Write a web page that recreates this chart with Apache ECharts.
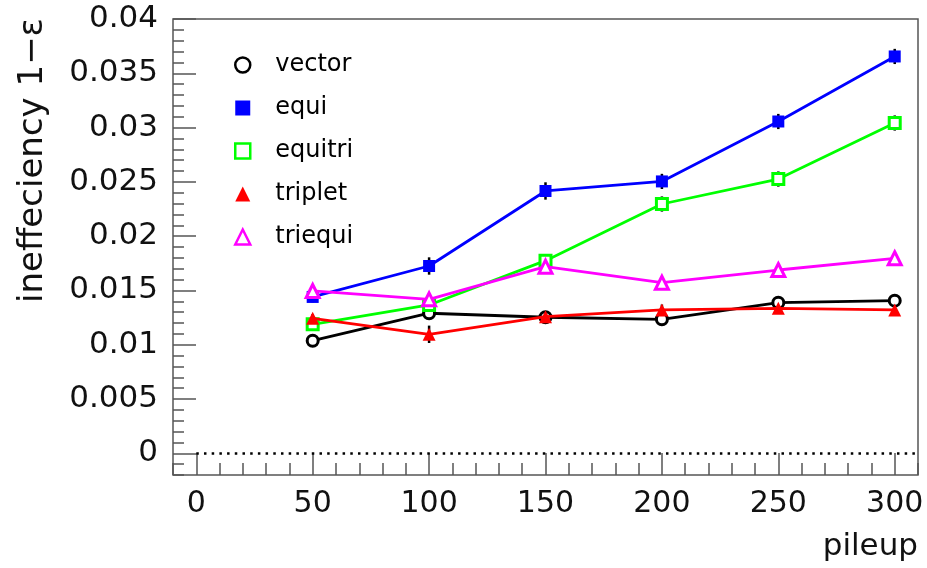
<!DOCTYPE html>
<html>
<head>
<meta charset="utf-8">
<script src="https://cdn.jsdelivr.net/npm/echarts@6/dist/echarts.min.js"></script>
<style>
html, body { margin: 0; padding: 0; background: #fff; }
#main { width: 927px; height: 568px; }
</style>
</head>
<body>
<div id="main"></div>
<script>
// values
var pileup = [50, 100, 150, 200, 250, 300];
var vector = [0.01037, 0.0129, 0.01253, 0.01234, 0.01387, 0.01406];
var vectorErr = [0.0003, 0.0004, 0.0004, 0.0004, 0.0004, 0.0004];
var equi = [0.0144, 0.01725, 0.02416, 0.02504, 0.03056, 0.03655];
var equiErr = [0.0005, 0.0008, 0.0008, 0.0007, 0.0007, 0.0007];
var equitri = [0.01188, 0.01366, 0.01774, 0.02296, 0.02526, 0.03042];
var equitriErr = [0.0005, 0.0006, 0.0006, 0.0007, 0.0007, 0.0007];
var triplet = [0.01243, 0.01096, 0.01258, 0.0132, 0.01335, 0.0132];
var tripletErr = [0.0004, 0.0008, 0.0004, 0.0005, 0.0004, 0.0004];
var triequi = [0.01495, 0.01418, 0.01719, 0.01571, 0.01688, 0.01796];
var triequiErr = [0.0004, 0.0005, 0.0005, 0.0004, 0.0004, 0.0004];

var xTicks = [0, 50, 100, 150, 200, 250, 300];
var yTicks = [0, 0.005, 0.01, 0.015, 0.02, 0.025, 0.03, 0.035, 0.04];

var FONT = 'DejaVu Sans';
var AXIS_GREY = '#555';

function points(vals) {
	return pileup.map(function(x, i) { return [x, vals[i]]; });
}

function errBars(vals, errs) {
	return {
		type : 'custom',
		silent : true,
		z : 1,
		renderItem : function(params, api) {
			var lo = api.coord([api.value(0), api.value(1)]);
			var hi = api.coord([api.value(0), api.value(2)]);
			return {
				type : 'line',
				shape : { x1 : lo[0], y1 : lo[1], x2 : hi[0], y2 : hi[1] },
				style : { stroke : '#000', lineWidth : 2.5 }
			};
		},
		data : pileup.map(function(x, i) { return [x, vals[i] - errs[i], vals[i] + errs[i]]; })
	};
}

// hollow markers: white fill, coloured thick border
function lineSeries(name, vals, color, symbol, hollow, size, z) {
	return {
		type : 'line',
		name : name,
		data : points(vals),
		symbol : symbol,
		symbolSize : size,
		z : z,
		lineStyle : { color : color, width : 2.8 },
		itemStyle : hollow ? { color : '#fff', borderColor : color, borderWidth : 3 } : { color : color, borderWidth : 0 },
		emphasis : { disabled : true }
	};
}

var myChart = echarts.init(document.getElementById('main'));

var series = [
	errBars(vector, vectorErr),
	errBars(equi, equiErr),
	errBars(equitri, equitriErr),
	errBars(triplet, tripletErr),
	errBars(triequi, triequiErr),
	lineSeries('vector', vector, '#000000', 'circle', true, 11, 2),
	lineSeries('equi', equi, '#0000ff', 'rect', false, 12, 3),
	lineSeries('equitri', equitri, '#00ff00', 'rect', true, 11, 4),
	lineSeries('triplet', triplet, '#ff0000', 'triangle', false, 13, 5),
	lineSeries('triequi', triequi, '#ff00ff', 'triangle', true, 13, 6)
];

// dotted line at zero
series[5].markLine = {
	silent : true,
	symbol : 'none',
	label : { show : false },
	lineStyle : { color : '#000', type : [2.5, 5.2], width : 2.5 },
	data : [ [ { coord : [0, 0] }, { coord : [310, 0] } ] ]
};

var noLine = { show : false, onZero : false };
var hollowIcon = { borderWidth : 2.5 };

option = {
	animation : false,
	backgroundColor : '#fff',
	grid : {
		left : 173, top : 19, right : 9, bottom : 93,
		show : true,
		borderColor : AXIS_GREY,
		borderWidth : 1.5,
		outerBoundsMode : 'none'
	},
	legend : {
		orient : 'vertical',
		left : 229,
		top : 48,
		itemWidth : 15,
		itemHeight : 15,
		itemGap : 19,
		selectedMode : false,
		textStyle : { fontFamily : FONT, fontSize : 24, color : '#000', padding : [0, 0, 0, 20] },
		data : [
			{ name : 'vector', icon : 'circle', itemStyle : hollowIcon },
			{ name : 'equi', icon : 'rect' },
			{ name : 'equitri', icon : 'rect', itemStyle : hollowIcon },
			{ name : 'triplet', icon : 'triangle' },
			{ name : 'triequi', icon : 'triangle', itemStyle : hollowIcon }
		]
	},
	xAxis : [ {
		type : 'value', min : -10, max : 310, position : 'bottom',
		axisLine : noLine,
		splitLine : { show : false },
		axisTick : { inside : true, length : 22, customValues : xTicks, lineStyle : { color : AXIS_GREY, width : 1.5 } },
		axisLabel : { customValues : xTicks, margin : 14, fontFamily : FONT, fontSize : 30, color : '#111' }
	}, {
		type : 'value', min : -10, max : 310, interval : 10, position : 'bottom',
		axisLine : noLine,
		splitLine : { show : false },
		axisTick : { inside : true, length : 12, lineStyle : { color : AXIS_GREY, width : 1.5 } },
		axisLabel : { show : false }
	} ],
	yAxis : [ {
		type : 'value', min : -0.002, max : 0.04, position : 'left',
		axisLine : noLine,
		splitLine : { show : false },
		axisTick : { inside : true, length : 23, customValues : yTicks, lineStyle : { color : AXIS_GREY, width : 1.5 } },
		axisLabel : {
			customValues : yTicks, margin : 15, fontFamily : FONT, fontSize : 31, color : '#111',
			formatter : function(v) { return String(+v.toFixed(3)); }
		}
	}, {
		type : 'value', min : -0.002, max : 0.04, interval : 0.001, position : 'left',
		axisLine : noLine,
		splitLine : { show : false },
		axisTick : { inside : true, length : 11, lineStyle : { color : AXIS_GREY, width : 1.5 } },
		axisLabel : { show : false }
	} ],
	graphic : [ {
		type : 'text',
		x : 33, y : 18,
		rotation : Math.PI / 2,
		style : { text : 'ineffeciency 1\u2212\u03b5', font : '34px "DejaVu Sans"', fill : '#111', align : 'right', verticalAlign : 'middle' }
	}, {
		type : 'text',
		right : 9, top : 531,
		style : { text : 'pileup', font : '31px "DejaVu Sans"', fill : '#111' }
	} ],
	series : series
};

myChart.setOption(option);
</script>
</body>
</html>
